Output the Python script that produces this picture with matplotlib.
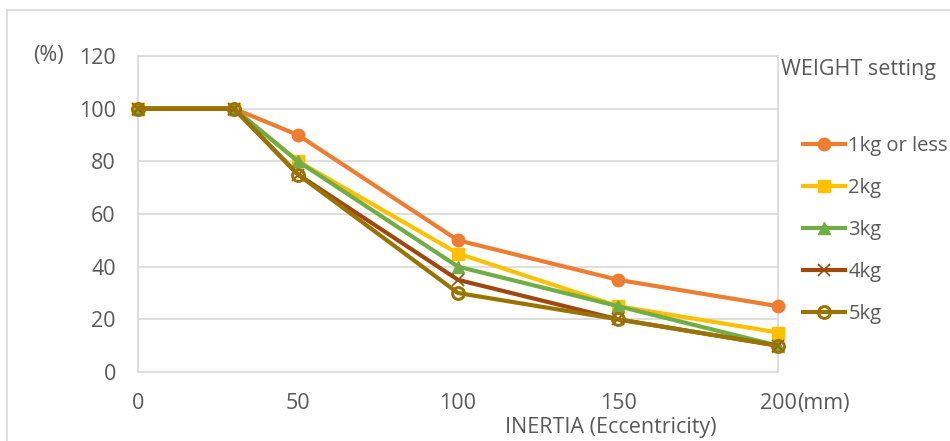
import matplotlib
matplotlib.use("Agg")
import matplotlib.pyplot as plt
from matplotlib.patches import Rectangle

plt.rcParams['font.family'] = ['Open Sans', 'DejaVu Sans']

x_vals = [0, 30, 50, 100, 150, 200]
series_names = ["1kg or less", "2kg", "3kg", "4kg", "5kg"]
w1 = [100, 100, 90, 50, 35, 25]
w2 = [100, 100, 80, 45, 25, 15]
w3 = [100, 100, 80, 40, 25, 10]
w4 = [100, 100, 75, 35, 20, 10]
w5 = [100, 100, 75, 30, 20, 10]
series = [w1, w2, w3, w4, w5]
x_ticks = [0, 50, 100, 150, 200]
y_ticks = [0, 20, 40, 60, 80, 100, 120]

colors = ["#ED7D31", "#FFC000", "#70AD47", "#9E480E", "#997300"]
styles = [
    dict(marker='o', markersize=9, markerfacecolor=colors[0], markeredgecolor=colors[0]),
    dict(marker='s', markersize=8.5, markerfacecolor=colors[1], markeredgecolor=colors[1]),
    dict(marker='^', markersize=9, markerfacecolor=colors[2], markeredgecolor=colors[2]),
    dict(marker='x', markersize=8.5, markeredgewidth=1.2, markeredgecolor=colors[3]),
    dict(marker='o', markersize=8.5, markerfacecolor='none', markeredgewidth=2.2, markeredgecolor=colors[4]),
]

FS = 15.5
LFS = 14.5
TXT = '#595959'

fig = plt.figure(figsize=(9.5, 4.41), dpi=100)
fig.patch.set_facecolor('white')
# outer chart frame
fig.patches.append(Rectangle((7/950, -0.1), 1.2, 1 - 10/441 + 0.1, transform=fig.transFigure,
                             fill=False, edgecolor='#D9D9D9', linewidth=1.2))

ax = fig.add_axes([138/950, 1 - 372/441, 640/950, 316/441])
ax.set_xlim(0, 200)
ax.set_ylim(0, 120)
ax.set_xticks(x_ticks)
ax.set_yticks(y_ticks)
ax.grid(True, axis='y', color='#D9D9D9', linewidth=1.2)
ax.set_axisbelow(True)
for s in ax.spines.values():
    s.set_color('#D9D9D9')
    s.set_linewidth(1.2)
ax.tick_params(length=0, labelsize=FS, labelcolor=TXT)
ax.tick_params(axis='y', pad=16)
ax.tick_params(axis='x', pad=15)

handles = []
for vals, name, c, st in zip(series, series_names, colors, styles):
    h, = ax.plot(x_vals, vals, color=c, linewidth=3, label=name, clip_on=False, zorder=3, **st)
    handles.append(h)

fig.text(33/950, 1 - 56/441, "(%)", fontsize=FS, color=TXT, ha='left', va='center')
fig.text(797/950, 1 - 404/441, "(mm)", fontsize=FS, color=TXT, ha='left', va='center')
fig.text(611/950, 1 - 428/441, "INERTIA (Eccentricity)", fontsize=FS, color=TXT, ha='center', va='center')
fig.text(781/950, 1 - 70/441, "WEIGHT setting", fontsize=FS, color=TXT, ha='left', va='center')

leg = fig.legend(handles=handles, labels=series_names, loc='upper left',
                 bbox_to_anchor=(803/950, 1 - 136/441), frameon=False, fontsize=LFS,
                 handlelength=2.1, handletextpad=0.15, labelspacing=1.09, borderpad=0, borderaxespad=0)
for t in leg.get_texts():
    t.set_color(TXT)

fig.savefig("out.png", dpi=100)
